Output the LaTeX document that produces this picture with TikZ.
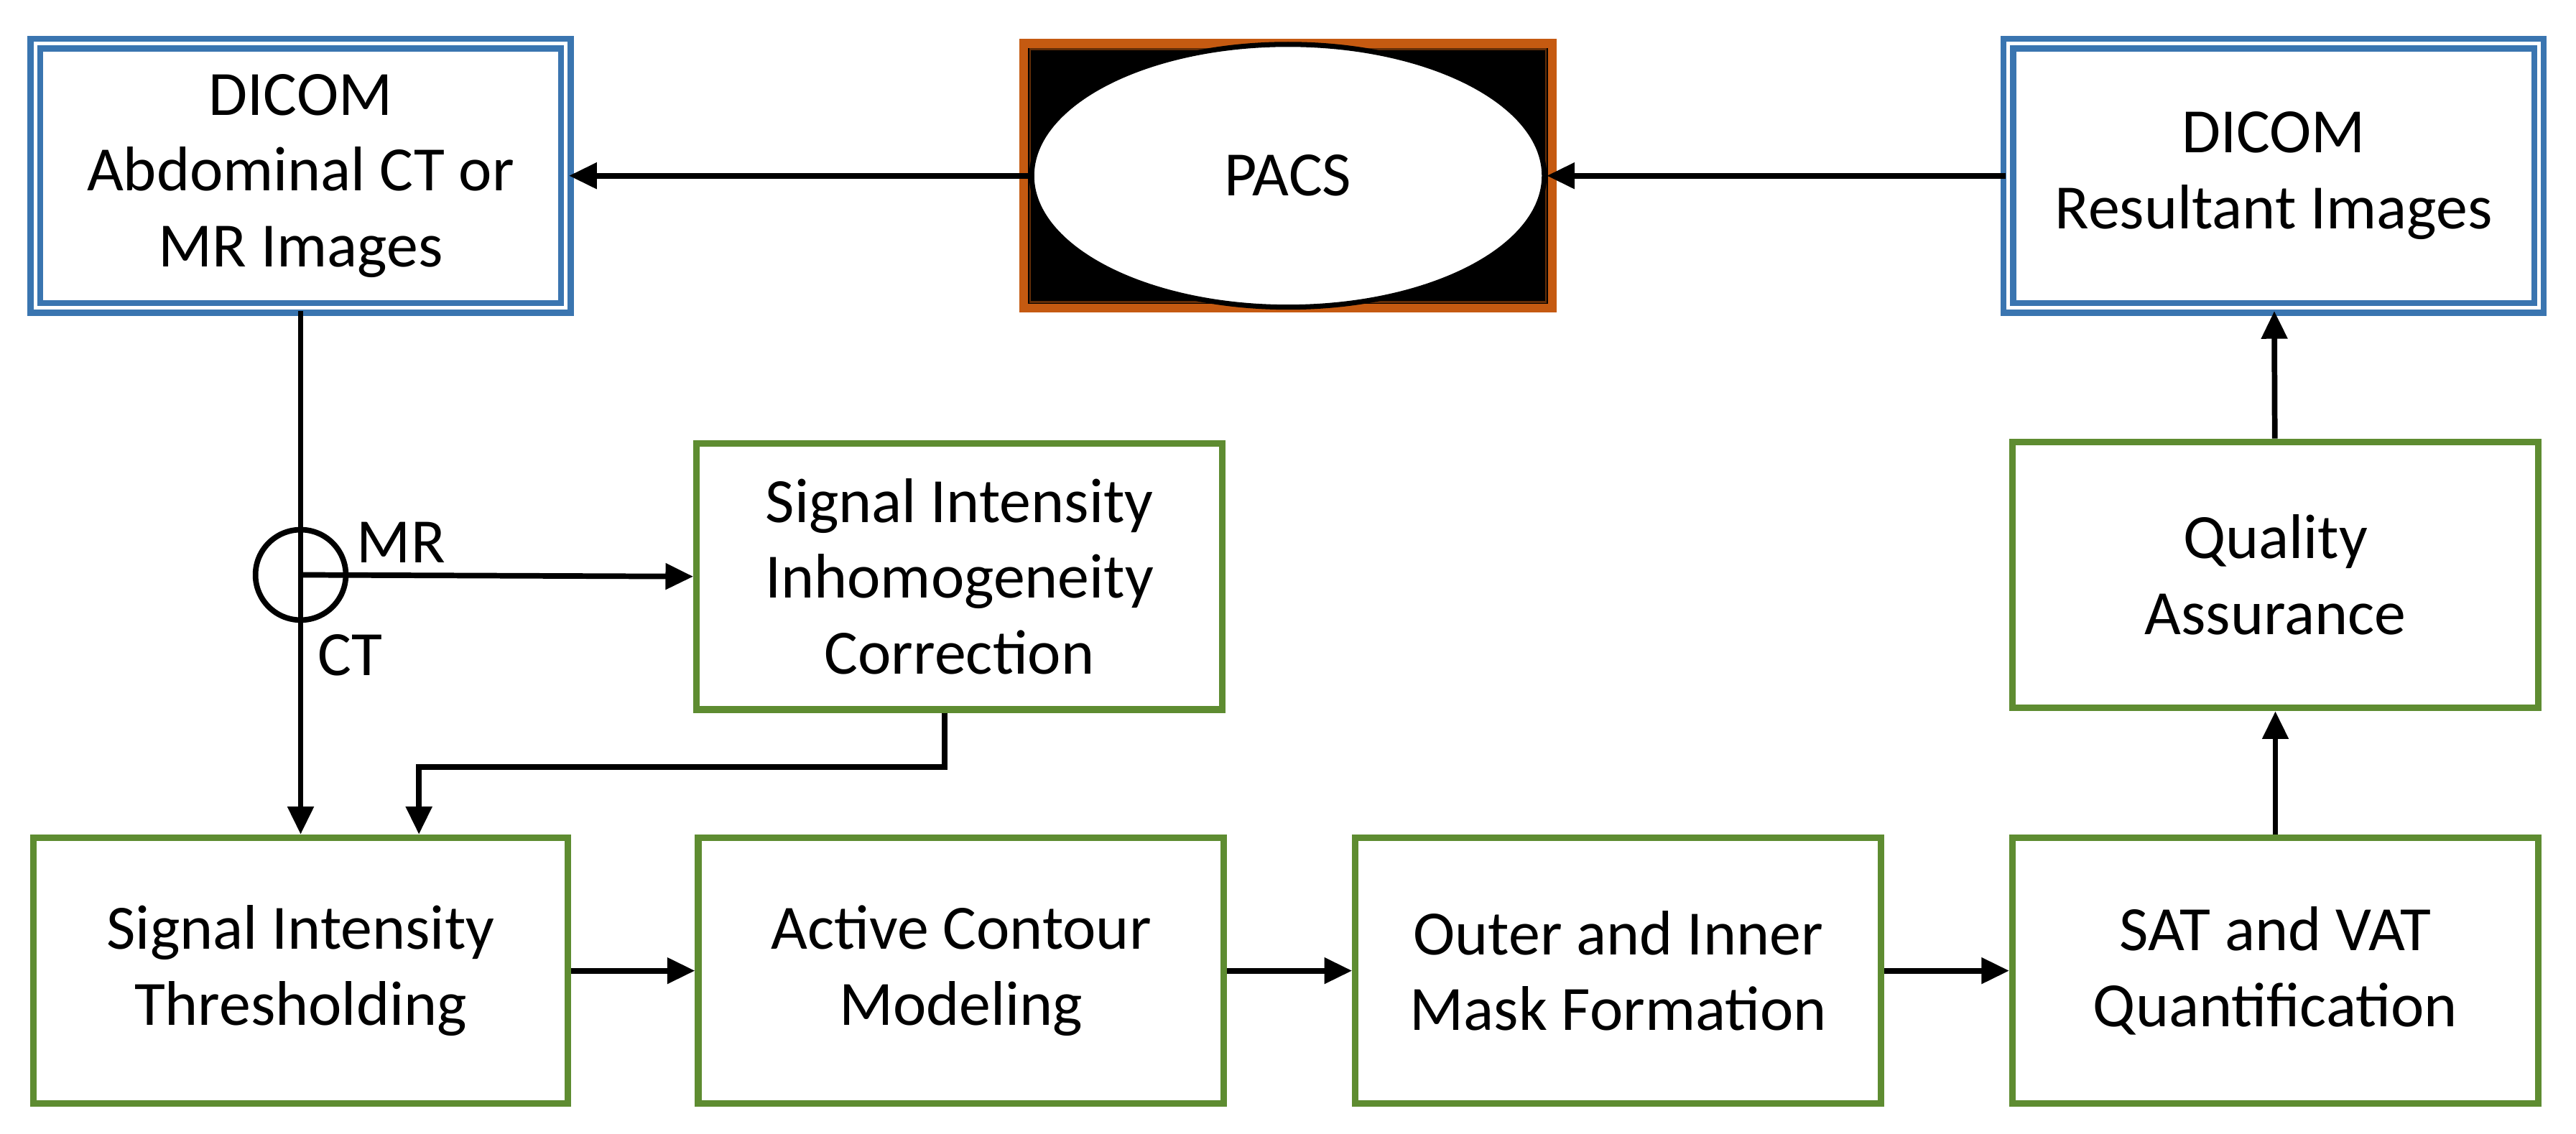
\documentclass[tikz,border=0pt]{standalone}
\usepackage{fontspec}
\setmainfont{Carlito}
\usetikzlibrary{arrows.meta,shapes.geometric}
\definecolor{bl}{HTML}{3A75B0}
\definecolor{gr}{HTML}{5E8C31}
\definecolor{og}{HTML}{C55A11}
\begin{document}
\begin{tikzpicture}[x=0.02287cm,y=-0.02287cm,
  txt/.style={font=\fontsize{25}{30}\selectfont,align=center},
  gbox/.style={draw=gr,line width=2.6pt,minimum width=320*0.02287cm,minimum height=162*0.02287cm,txt,inner sep=0pt},
  bbox/.style={draw=bl,double=white,double distance=1.4pt,line width=2.4pt,minimum width=323*0.02287cm,minimum height=161*0.02287cm,txt,inner sep=0pt},
  arr/.style={-{Triangle[length=11pt,width=10pt]},line width=2.2pt}]
\useasboundingbox (0,0) rectangle (1568,690);
\node[bbox] (dic) at (183,107) {DICOM\\Abdominal CT or\\MR Images};
\node[draw=og,line width=3.5pt,fill=black,minimum width=322*0.02287cm,minimum height=161*0.02287cm,inner sep=0pt] (pbox) at (784,107) {};
\draw[og!50!black,line width=0.8pt] (627,30) rectangle (941,184);
\node[ellipse,draw=black,line width=2pt,fill=white,inner sep=0pt,minimum width=312*0.02287cm,minimum height=160*0.02287cm,txt] (pacs) at (784,107) {PACS};
\node[bbox] (res) at (1384,107) {DICOM\\Resultant Images};
\node[gbox] (sic) at (584,351) {Signal Intensity\\Inhomogeneity\\Correction};
\node[gbox] (qa) at (1385,350) {Quality\\Assurance};
\node[gbox,minimum width=325*0.02287cm] (sit) at (183,591) {Signal Intensity\\Thresholding};
\node[gbox] (acm) at (585,591) {Active Contour\\Modeling};
\node[gbox] (oim) at (985,591) {Outer and Inner\\Mask Formation};
\node[gbox] (sat) at (1385,591) {SAT and VAT\\Quantification};
\node[circle,draw,line width=2.2pt,minimum size=55*0.02287cm,inner sep=0pt] (j) at (183,350) {};
\draw[arr] (pacs.west) -- (dic.east);
\draw[arr] (res.west) -- (pacs.east);
\draw[arr] (dic.south) -- (sit.north);
\draw[arr] (j.center) -- (sic.west);
\node[txt,anchor=south west,inner sep=0pt] (mr) at (217,343) {MR};
\node[txt,anchor=north west,inner sep=0pt] (ct) at (193,386) {CT};
\draw[arr] (sic.south -| 575,0) |- (255,467) -- (sit.north -| 255,0);
\draw[arr] (sit) -- (acm);
\draw[arr] (acm) -- (oim);
\draw[arr] (oim) -- (sat);
\draw[arr] (sat) -- (qa);
\draw[arr] (qa) -- (res);
\end{tikzpicture}
\end{document}
